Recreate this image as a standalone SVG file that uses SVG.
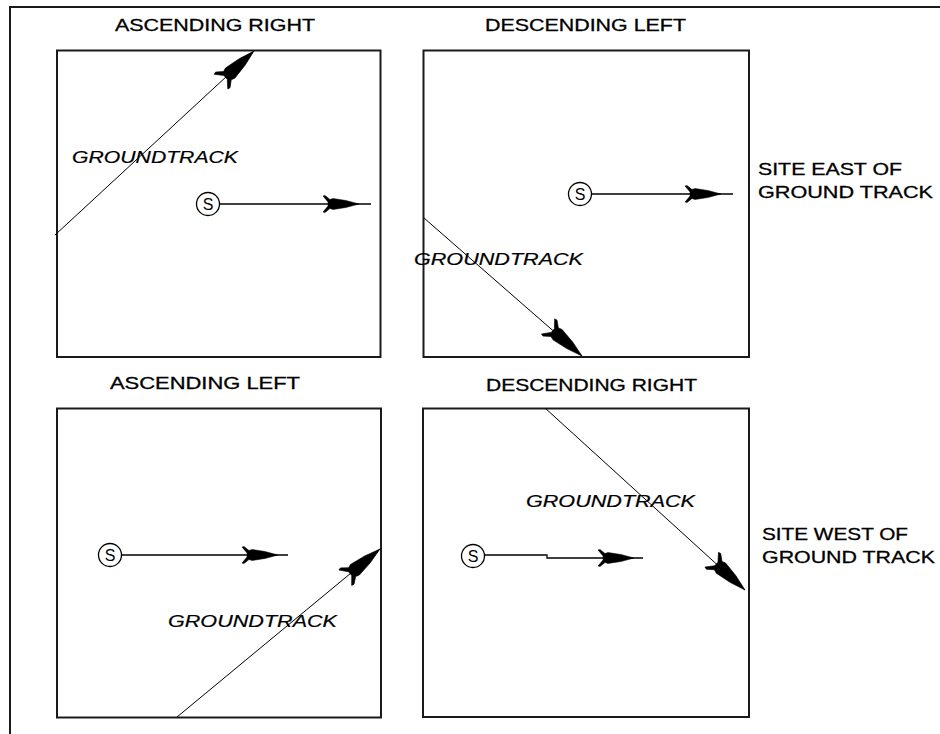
<svg xmlns="http://www.w3.org/2000/svg" xmlns:xlink="http://www.w3.org/1999/xlink" width="940" height="734" viewBox="0 0 940 734">
  <style>
    .frame { fill: none; stroke: #1a1a1a; stroke-width: 2; }
    .box { fill: none; stroke: #1a1a1a; stroke-width: 2; }
    .track { fill: none; stroke: #000; stroke-width: 1; }
    .shaft { fill: none; stroke: #000; stroke-width: 1.3; }
    .site { fill: #fff; stroke: #000; stroke-width: 1.3; }
    .title { font-family: "Liberation Sans", Arial, sans-serif; font-size: 17px; fill: #000; stroke: #000; stroke-width: 0.3; }
    .side { font-family: "Liberation Sans", Arial, sans-serif; font-size: 17px; fill: #000; stroke: #000; stroke-width: 0.3; }
    .gt { font-family: "Liberation Sans", Arial, sans-serif; font-size: 17px; font-style: italic; fill: #000; stroke: #000; stroke-width: 0.2; }
    .s { font-family: "Liberation Sans", Arial, sans-serif; font-size: 16px; fill: #000; text-anchor: middle; }
    .dart { fill: #000; stroke: #000; stroke-width: 0.5; }
  </style>
  <defs>
    <path id="dart" class="dart" d="M0,0 L-13,-3.5 L-26,-5.5 L-29,-4.5 L-34,-8.5 L-36,-8 L-31,-2 L-31,2 L-36,8 L-34,8.5 L-29,4.5 L-26,5.5 L-13,3.5 Z"/>
  </defs>
  <rect width="940" height="734" fill="#fff"/>
  <rect class="frame" x="10" y="7" width="940" height="740"/>

  <g id="panel-ascending-right">
    <rect class="box" x="57" y="50.5" width="323.5" height="306.5"/>
    <text class="title" x="115" y="30.5" textLength="200" lengthAdjust="spacingAndGlyphs">ASCENDING RIGHT</text>
    <text class="gt" x="72" y="163" textLength="166" lengthAdjust="spacingAndGlyphs">GROUNDTRACK</text>
    <g id="site-ar"><circle class="site" cx="208" cy="204" r="11.5"/><text class="s" x="208" y="210">S</text></g>
  </g>

  <g id="panel-descending-left">
    <rect class="box" x="423.5" y="50.5" width="325.5" height="306.5"/>
    <text class="title" x="485" y="31" textLength="201" lengthAdjust="spacingAndGlyphs">DESCENDING LEFT</text>
    <text class="gt" x="414" y="265" textLength="169" lengthAdjust="spacingAndGlyphs">GROUNDTRACK</text>
    <g id="site-dl"><circle class="site" cx="580" cy="194" r="11.5"/><text class="s" x="580" y="200">S</text></g>
  </g>

  <g id="label-site-east">
    <text class="side" x="758" y="175" textLength="144" lengthAdjust="spacingAndGlyphs">SITE EAST OF</text>
    <text class="side" x="758" y="198" textLength="175" lengthAdjust="spacingAndGlyphs">GROUND TRACK</text>
  </g>

  <g id="panel-ascending-left">
    <rect class="box" x="57" y="408.5" width="324" height="309"/>
    <text class="title" x="110" y="389" textLength="190" lengthAdjust="spacingAndGlyphs">ASCENDING LEFT</text>
    <text class="gt" x="168" y="627" textLength="169" lengthAdjust="spacingAndGlyphs">GROUNDTRACK</text>
    <g id="site-al"><circle class="site" cx="110" cy="555" r="11.5"/><text class="s" x="110" y="561">S</text></g>
  </g>

  <g id="panel-descending-right">
    <rect class="box" x="423" y="408.5" width="326" height="308.5"/>
    <text class="title" x="486" y="391" textLength="211" lengthAdjust="spacingAndGlyphs">DESCENDING RIGHT</text>
    <text class="gt" x="526" y="507" textLength="169" lengthAdjust="spacingAndGlyphs">GROUNDTRACK</text>
    <g id="site-dr"><circle class="site" cx="473" cy="556" r="11.5"/><text class="s" x="473" y="562">S</text></g>
  </g>

  <g id="label-site-west">
    <text class="side" x="762" y="540" textLength="146" lengthAdjust="spacingAndGlyphs">SITE WEST OF</text>
    <text class="side" x="762" y="563" textLength="173" lengthAdjust="spacingAndGlyphs">GROUND TRACK</text>
  </g>

  <g id="connectors">
    <line class="track" x1="55" y1="235" x2="254" y2="51"/>
    <use xlink:href="#dart" href="#dart" transform="translate(254,51) rotate(-42.8) scale(1.25)"/>
    <line class="track" x1="424" y1="218" x2="582" y2="356"/>
    <use xlink:href="#dart" href="#dart" transform="translate(582,356) rotate(41.1) scale(1.25)"/>
    <line class="track" x1="177" y1="717" x2="380" y2="549"/>
    <use xlink:href="#dart" href="#dart" transform="translate(380,549) rotate(-39.6) scale(1.25)"/>
    <line class="track" x1="545" y1="408" x2="745" y2="590"/>
    <use xlink:href="#dart" href="#dart" transform="translate(745,590) rotate(42.3) scale(1.25)"/>
    <line class="shaft" x1="219.5" y1="204" x2="371" y2="204"/>
    <use xlink:href="#dart" href="#dart" transform="translate(359,204)"/>
    <line class="shaft" x1="591.5" y1="194" x2="733" y2="194"/>
    <use xlink:href="#dart" href="#dart" transform="translate(721,194)"/>
    <line class="shaft" x1="121.5" y1="555" x2="288" y2="555"/>
    <use xlink:href="#dart" href="#dart" transform="translate(278,555)"/>
    <path class="shaft" d="M484.5,555 H547 V558 H643"/>
    <use xlink:href="#dart" href="#dart" transform="translate(634,558)"/>
  </g>
</svg>
